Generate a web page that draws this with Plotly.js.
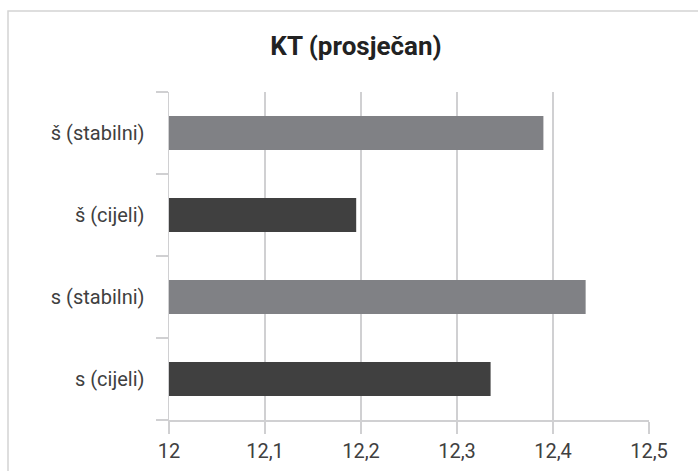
<!DOCTYPE html>
<html>
<head>
<meta charset="utf-8">
<script src="https://cdn.plot.ly/plotly-3.0.1.min.js"></script>
<style>
  html, body { margin: 0; padding: 0; background: #ffffff; }
  #chart { width: 698px; height: 471px; }
</style>
</head>
<body>
<div id="chart"></div>
<script>
// Average KT per group, bottom to top
const categories = ['s (cijeli)', 's (stabilni)', 'š (cijeli)', 'š (stabilni)'];
const values = [12.335, 12.434, 12.195, 12.39];
const xTicks = [12, 12.1, 12.2, 12.3, 12.4, 12.5];

const DARK = '#404040';
const LIGHT = '#808185';
const GRID = '#d0d0d2';
const TEXT = '#404040';

const W = 698, H = 471;
const M = { l: 169, r: 49, t: 92, b: 51 };
const pw = W - M.l - M.r, ph = H - M.t - M.b;
// chart frame in pixel terms, converted to paper units
const px = v => (v - M.l) / pw;
const py = v => (H - M.b - v) / ph;

const trace = {
  type: 'bar',
  orientation: 'h',
  y: categories,
  x: values,
  marker: { color: categories.map(c => c.includes('stabilni') ? LIGHT : DARK) },
  hoverinfo: 'x+y'
};

const layout = {
  width: W,
  height: H,
  margin: M,
  paper_bgcolor: '#ffffff',
  plot_bgcolor: '#ffffff',
  separators: ',.',
  showlegend: false,
  bargap: 0.585,
  font: { family: 'Roboto, "Noto Sans", sans-serif', size: 20, color: TEXT },
  title: {
    text: '<b>KT (prosječan)</b>',
    font: { family: 'Roboto, sans-serif', size: 26, color: '#222222' },
    x: 356 / W, xref: 'container', xanchor: 'center',
    y: 1 - 46 / H, yref: 'container', yanchor: 'middle'
  },
  xaxis: {
    range: [12, 12.5],
    tickvals: xTicks,
    showgrid: true,
    gridcolor: GRID,
    gridwidth: 1.5,
    zeroline: false,
    showline: true,
    linecolor: GRID,
    linewidth: 1.5,
    ticks: 'outside',
    ticklen: 12,
    tickwidth: 1.5,
    tickcolor: GRID,
    tickfont: { size: 20, color: TEXT },
    fixedrange: true
  },
  yaxis: {
    type: 'category',
    categoryorder: 'array',
    categoryarray: categories,
    showgrid: false,
    zeroline: false,
    showline: true,
    linecolor: GRID,
    linewidth: 1.5,
    ticks: 'outside',
    tickson: 'boundaries',
    ticklen: 12,
    tickwidth: 1.5,
    tickcolor: GRID,
    ticklabelstandoff: 19,
    tickfont: { size: 20, color: TEXT },
    fixedrange: true
  },
  shapes: [{
    type: 'rect',
    xref: 'paper', yref: 'paper',
    x0: px(8), x1: px(W + 4),
    y0: py(H + 4), y1: py(11),
    line: { color: '#d4d4d4', width: 1.5 },
    fillcolor: 'rgba(0,0,0,0)',
    layer: 'below'
  }]
};

Plotly.newPlot('chart', [trace], layout, { displayModeBar: false, staticPlot: true });
</script>
</body>
</html>
